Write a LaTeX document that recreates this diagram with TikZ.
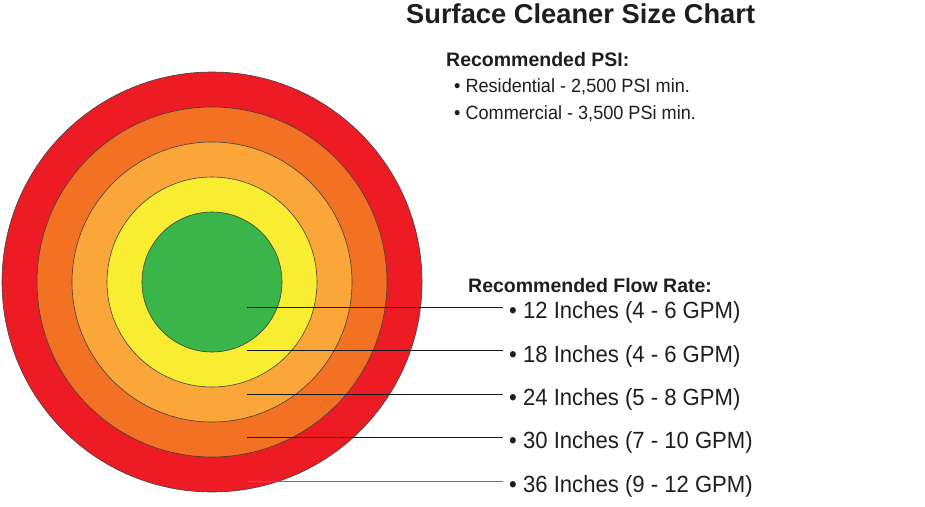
\documentclass[tikz,border=0pt]{standalone}
\usepackage{fontspec}
\setmainfont{Liberation Sans}
\definecolor{cred}{RGB}{237,28,36}
\definecolor{corange}{RGB}{242,113,34}
\definecolor{clight}{RGB}{250,166,56}
\definecolor{cyellow}{RGB}{249,237,50}
\definecolor{cgreen}{RGB}{57,181,74}
\definecolor{ctext}{RGB}{30,30,30}
\newcommand{\tallish}[1]{\scalebox{1}[1.06]{#1}}
\begin{document}
\begin{tikzpicture}[x=1pt,y=-1pt,
  ring/.style={circle, inner sep=0pt, draw=black!75, line width=0.6pt},
  leader/.style={draw=black!90, line width=1pt},
  titletext/.style={anchor=base west, inner sep=0pt, text=ctext, font=\fontsize{27.3}{30}\selectfont\bfseries},
  headtext/.style={anchor=base west, inner sep=0pt, text=ctext, font=\fontsize{19.5}{23}\selectfont\bfseries},
  psitext/.style={anchor=base west, inner sep=0pt, text=ctext, font=\fontsize{18.1}{22}\selectfont},
  itemtext/.style={anchor=base west, inner sep=0pt, text=ctext, font=\fontsize{22.1}{26}\selectfont}]
\useasboundingbox (0,0) rectangle (925,506);
\fill[white] (0,0) rectangle (925,506);
% rings
\node[ring, minimum size=420pt, fill=cred] (r36) at (212,282) {};
\node[ring, minimum size=350pt, fill=corange] (r30) at (212,282) {};
\node[ring, minimum size=280pt, fill=clight] (r24) at (212,282) {};
\node[ring, minimum size=210pt, fill=cyellow] (r18) at (212,282) {};
\node[ring, minimum size=140pt, fill=cgreen] (r12) at (212,282) {};
% texts
\node[titletext] (title) at (406,23) {Surface Cleaner Size Chart};
\node[headtext] (psihead) at (446,66) {Recommended PSI:};
\node[psitext] (psi1) at (454,92) {\tallish{• Residential - 2,500 PSI min.}};
\node[psitext] (psi2) at (454,119) {\tallish{• Commercial - 3,500 PSi min.}};
\node[headtext] (flowhead) at (468,292) {Recommended Flow Rate:};
\node[itemtext] (f12) at (509,318) {\tallish{• 12 Inches (4 - 6 GPM)}};
\node[itemtext] (f18) at (509,362) {\tallish{• 18 Inches (4 - 6 GPM)}};
\node[itemtext] (f24) at (509,405) {\tallish{• 24 Inches (5 - 8 GPM)}};
\node[itemtext] (f30) at (509,448) {\tallish{• 30 Inches (7 - 10 GPM)}};
\node[itemtext] (f36) at (509,492) {\tallish{• 36 Inches (9 - 12 GPM)}};
% leaders
\coordinate (s12) at (247,307); \coordinate (e12) at (503,307);
\coordinate (s18) at (247,350.5); \coordinate (e18) at (503,350.5);
\coordinate (s24) at (247,394); \coordinate (e24) at (503,394);
\coordinate (s30) at (247,437); \coordinate (e30) at (503,437);
\coordinate (s36) at (247,481); \coordinate (e36) at (503,481);
\draw[leader] (s12) -- (e12);
\draw[leader] (s18) -- (e18);
\draw[leader] (s24) -- (e24);
\draw[leader] (s30) -- (e30);
\draw[leader, draw=black!55] (s36) -- (e36);
\end{tikzpicture}
\end{document}
